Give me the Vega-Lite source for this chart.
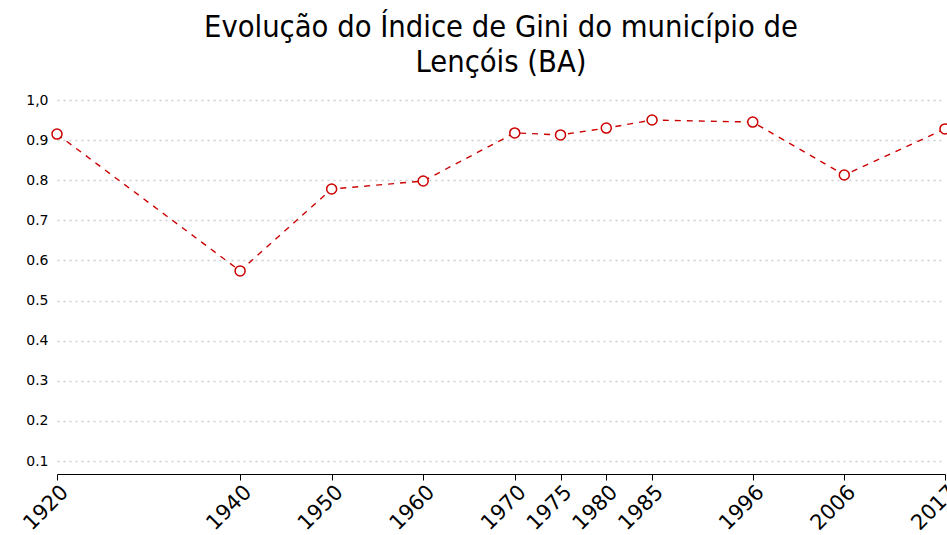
{
  "$schema": "https://vega.github.io/schema/vega-lite/v6.json",
  "width": 888,
  "height": 374,
  "autosize": {"type": "none"},
  "padding": {"left": 57, "top": 100, "right": 2, "bottom": 61},
  "background": "white",
  "config": {"view": {"stroke": null}},
  "title": {
    "text": ["Evolução do Índice de Gini do município de", "Lençóis (BA)"],
    "font": "DejaVu Sans Condensed",
    "fontSize": 30.6,
    "fontWeight": "normal",
    "color": "#000000",
    "lineHeight": 35,
    "anchor": "middle",
    "offset": 14
  },
  "data": {
    "values": [
      {"ano": 1920, "gini": 0.915},
      {"ano": 1940, "gini": 0.574},
      {"ano": 1950, "gini": 0.778},
      {"ano": 1960, "gini": 0.798},
      {"ano": 1970, "gini": 0.918},
      {"ano": 1975, "gini": 0.913},
      {"ano": 1980, "gini": 0.930},
      {"ano": 1985, "gini": 0.950},
      {"ano": 1996, "gini": 0.945},
      {"ano": 2006, "gini": 0.813},
      {"ano": 2017, "gini": 0.928}
    ]
  },
  "encoding": {
    "x": {
      "field": "ano",
      "type": "quantitative",
      "scale": {"domain": [1920, 2017], "nice": false, "zero": false},
      "axis": {
        "title": null,
        "values": [1920, 1940, 1950, 1960, 1970, 1975, 1980, 1985, 1996, 2006, 2017],
        "format": "d",
        "grid": false,
        "labelAngle": -45,
        "labelFont": "DejaVu Sans",
        "labelFontSize": 21,
        "labelColor": "#000000",
        "labelPadding": 1,
        "labelOverlap": false,
        "labelFlush": false,
        "labelBound": false,
        "domainColor": "#000000",
        "domainWidth": 1,
        "tickColor": "#000000",
        "tickSize": 6
      }
    },
    "y": {
      "field": "gini",
      "type": "quantitative",
      "scale": {"domain": [0.0676, 1.0], "nice": false, "zero": false},
      "axis": {
        "title": null,
        "values": [0.1, 0.2, 0.3, 0.4, 0.5, 0.6, 0.7, 0.8, 0.9, 1.0],
        "labelExpr": "datum.value >= 0.999 ? '1,0' : format(datum.value, '.1f')",
        "labelFont": "DejaVu Sans",
        "labelFontSize": 14,
        "labelColor": "#000000",
        "labelPadding": 9,
        "ticks": false,
        "domain": false,
        "grid": true,
        "gridColor": "#cccccc",
        "gridDash": [2, 4],
        "gridWidth": 1.5
      }
    }
  },
  "layer": [
    {
      "mark": {"type": "line", "color": "#cc0000", "strokeDash": [6, 6], "strokeWidth": 1.4}
    },
    {
      "mark": {"type": "point", "shape": "circle", "filled": true, "fill": "white", "stroke": "#cc0000", "strokeWidth": 1.5, "size": 100, "opacity": 1}
    }
  ]
}
